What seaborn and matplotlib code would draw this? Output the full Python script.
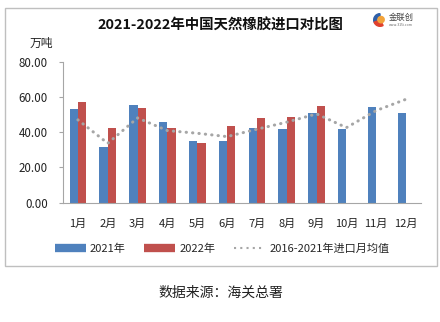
import numpy as np
import pandas as pd
import seaborn as sns
import matplotlib
matplotlib.use("Agg")
import matplotlib.pyplot as plt
from matplotlib.patches import Rectangle, Wedge
from matplotlib.lines import Line2D

months = ["1月", "2月", "3月", "4月", "5月", "6月", "7月", "8月", "9月", "10月", "11月", "12月"]
imports_2021 = [53.2, 31.6, 55.5, 45.6, 34.9, 35.2, 42.4, 41.9, 51.0, 41.9, 54.4, 51.1]
imports_2022 = [57.2, 42.4, 53.8, 42.4, 33.9, 43.6, 48.1, 48.7, 55.0, np.nan, np.nan, np.nan]
avg_2016_2021 = [47.0, 33.7, 48.1, 40.9, 39.4, 37.5, 41.7, 45.7, 50.4, 42.6, 52.3, 58.7]
series_names = ["2021年", "2022年"]
avg_name = "2016-2021年进口月均值"
yticks = [0, 20, 40, 60, 80]

sns.set_theme(style="white")
plt.rcParams['font.family'] = ['Noto Sans CJK SC', 'DejaVu Sans']

BLUE = "#4F81BD"
RED = "#C0504D"
GRAY = "#A6A6A6"

df = pd.DataFrame({
    "month": months * 2,
    "value": imports_2021 + imports_2022,
    "year": [series_names[0]] * 12 + [series_names[1]] * 12,
})

W, H = 440, 322
fig = plt.figure(figsize=(W / 100, H / 100), dpi=100)
ax = fig.add_axes([63 / W, (H - 202.7) / H, 358 / W, (202.7 - 61.7) / H])

sns.barplot(data=df, x="month", y="value", hue="year", order=months,
            hue_order=series_names, palette=[BLUE, RED], width=0.56,
            gap=0, ax=ax, legend=False, saturation=1, edgecolor="none")
sns.lineplot(x=np.arange(12), y=avg_2016_2021, ax=ax, color=GRAY,
             linewidth=2.2, legend=False)
ln = ax.lines[-1]
ln.set_linestyle((0, (0.1, 2.0)))
ln.set_dash_capstyle("round")

ax.set_xlim(-0.5, 11.5)
ax.set_ylim(0, 80)
ax.set_yticks(yticks)
ax.set_yticklabels([f"{v:.2f}" for v in yticks], fontsize=8.3, color="#222222")
ax.set_xticklabels(months, fontsize=8, color="#222222")
ax.set_xlabel("")
ax.set_ylabel("")
for s in ["top", "right"]:
    ax.spines[s].set_visible(False)
for s in ["left", "bottom"]:
    ax.spines[s].set_color("#A6A6A6")
    ax.spines[s].set_linewidth(0.8)
ax.tick_params(axis="y", left=True, length=3, width=0.8, color="#A6A6A6", pad=8)
ax.tick_params(axis="x", bottom=False, pad=6)
ax.grid(False)

# title and unit
fig.text(220 / W, 1 - 26 / H, "2021-2022年中国天然橡胶进口对比图", ha="center", va="center",
         fontsize=10.4, fontweight="bold", color="#111111")
fig.text(41 / W, 1 - 43 / H, "万吨", ha="center", va="center", fontsize=8.5, color="#222222")

# legend
handles = [Line2D([], [], color=BLUE, lw=6, solid_capstyle="butt"),
           Line2D([], [], color=RED, lw=6, solid_capstyle="butt"),
           Line2D([], [], color=GRAY, lw=1.5, linestyle=(0, (1, 2)))]
fig.legend(handles, series_names + [avg_name], loc="center", ncol=3,
           bbox_to_anchor=(222 / W, 1 - 249 / H), frameon=False, fontsize=8,
           handlelength=2.8, handletextpad=0.35, columnspacing=1.7)

# outer frame
fig.patches.append(Rectangle((5 / W, 1 - 266 / H), 432 / W, 258 / H, transform=fig.transFigure,
                             fill=False, edgecolor="#BFBFBF", linewidth=1))

# logo
lax = fig.add_axes([373 / W, 1 - 27 / H, 14 / W, 14 / H])
lax.set_xlim(-1, 1); lax.set_ylim(-1, 1); lax.axis("off")
lax.add_patch(Wedge((0, 0), 0.9, 90, 200, width=0.45, color="#2F5FA8"))
lax.add_patch(Wedge((0, 0), 0.9, 200, 300, width=0.45, color="#E0412E"))
lax.add_patch(Wedge((0.15, 0.05), 0.45, 0, 360, color="#F2A33A"))
fig.text(401 / W, 1 - 17 / H, "金联创", ha="center", va="center", fontsize=6, color="#444444")
fig.text(401 / W, 1 - 25 / H, "www.315i.com", ha="center", va="center", fontsize=2.5, color="#666666")

# source
fig.text(221 / W, 1 - 293 / H, "数据来源：海关总署", ha="center", va="center",
         fontsize=10, color="#222222")

fig.savefig("out.png", dpi=100)
